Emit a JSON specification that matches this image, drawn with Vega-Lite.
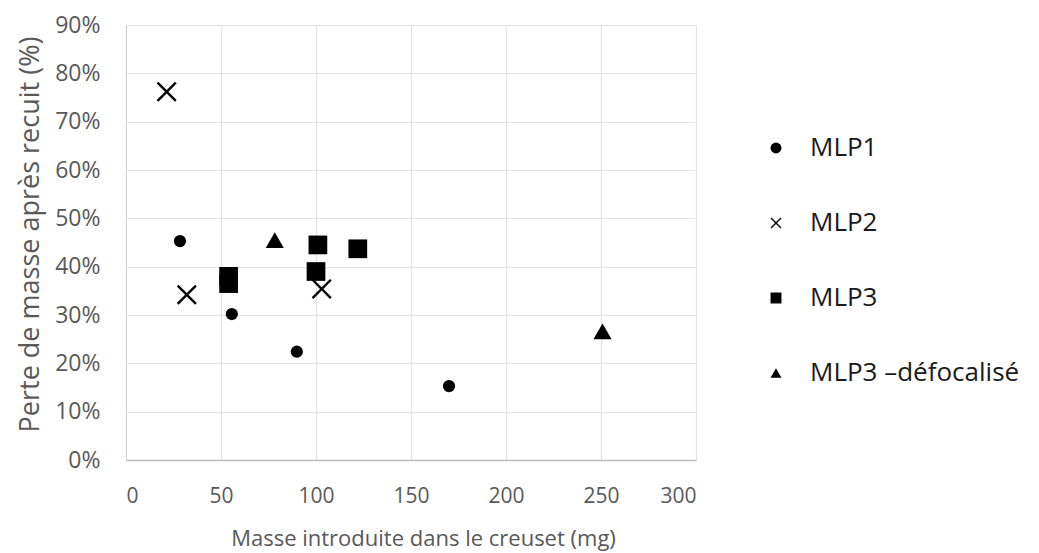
{
  "$schema": "https://vega.github.io/schema/vega-lite/v6.json",
  "width": 570,
  "height": 435,
  "autosize": {"type": "none"},
  "padding": {"left": 126, "top": 25, "right": 343, "bottom": 93},
  "background": "white",
  "config": {
    "font": "Open Sans",
    "view": {"stroke": null},
    "axis": {
      "labelFont": "Open Sans",
      "labelFontSize": 20,
      "labelColor": "#595959",
      "titleFont": "Open Sans",
      "titleFontSize": 22,
      "titleFontWeight": "normal",
      "titleColor": "#595959",
      "gridColor": "#e3e3e3",
      "gridWidth": 1.2,
      "ticks": false
    }
  },
  "data": {
    "values": [
      {"serie": "MLP1", "masse": 28.4, "perte": 0.453},
      {"serie": "MLP1", "masse": 55.7, "perte": 0.302},
      {"serie": "MLP1", "masse": 89.9, "perte": 0.224},
      {"serie": "MLP1", "masse": 170, "perte": 0.153},
      {"serie": "MLP2", "masse": 21.4, "perte": 0.762},
      {"serie": "MLP2", "masse": 32, "perte": 0.342},
      {"serie": "MLP2", "masse": 103, "perte": 0.354},
      {"serie": "MLP3", "masse": 54, "perte": 0.38},
      {"serie": "MLP3", "masse": 54, "perte": 0.365},
      {"serie": "MLP3", "masse": 101, "perte": 0.445},
      {"serie": "MLP3", "masse": 100, "perte": 0.39},
      {"serie": "MLP3", "masse": 122, "perte": 0.437},
      {"serie": "MLP3 –défocalisé", "masse": 78.3, "perte": 0.455},
      {"serie": "MLP3 –défocalisé", "masse": 250.8, "perte": 0.266}
    ]
  },
  "encoding": {
    "x": {
      "field": "masse",
      "type": "quantitative",
      "scale": {"domain": [0, 300], "nice": false},
      "axis": {
        "values": [0, 50, 100, 150, 200, 250, 300],
        "title": "Masse introduite dans le creuset (mg)",
        "domainColor": "#bfbfbf",
        "domainWidth": 1.5,
        "labelFontSize": 21,
        "labelPadding": 25,
        "titlePadding": 22,
        "titleX": 297
      }
    },
    "y": {
      "field": "perte",
      "type": "quantitative",
      "scale": {"domain": [0, 0.9], "nice": false},
      "axis": {
        "values": [0, 0.1, 0.2, 0.3, 0.4, 0.5, 0.6, 0.7, 0.8, 0.9],
        "format": ".0%",
        "title": "Perte de masse après recuit (%)",
        "domainColor": "#d0d0d0",
        "labelFontSize": 23,
        "labelPadding": 26,
        "titleFontSize": 27,
        "titlePadding": 10,
        "titleY": 209
      }
    },
    "shape": {
      "field": "serie",
      "type": "nominal",
      "scale": {
        "domain": ["MLP1", "MLP2", "MLP3", "MLP3 –défocalisé"],
        "range": ["circle", "M-0.83,-1L0,-0.17L0.83,-1L1,-0.83L0.17,0L1,0.83L0.83,1L0,0.17L-0.83,1L-1,0.83L-0.17,0L-1,-0.83Z", "square", "triangle-up"]
      },
      "legend": {
        "title": null,
        "orient": "none",
        "legendX": 637,
        "legendY": 110,
        "labelFont": "Open Sans",
        "labelFontSize": 26,
        "labelColor": "#1a1a1a",
        "labelOffset": 21,
        "labelLimit": 400,
        "rowPadding": 49,
        "symbolSize": 120,
        "symbolFillColor": "black",
        "symbolStrokeColor": "black",
        "symbolStrokeWidth": 0.5,
        "encode": {
          "symbols": {
            "update": {
              "fill": {"value": "black"},
              "fillOpacity": {"value": 1},
              "opacity": {"value": 1}
            }
          }
        }
      }
    }
  },
  "layer": [
    {
      "transform": [{"filter": "datum.serie === 'MLP1'"}],
      "mark": {"type": "point", "filled": true, "color": "black", "size": 150, "opacity": 1}
    },
    {
      "transform": [{"filter": "datum.serie === 'MLP2'"}],
      "mark": {"type": "point", "filled": true, "color": "black", "size": 400, "opacity": 1}
    },
    {
      "transform": [{"filter": "datum.serie === 'MLP3'"}],
      "mark": {"type": "point", "filled": true, "color": "black", "size": 350, "opacity": 1}
    },
    {
      "transform": [{"filter": "datum.serie === 'MLP3 –défocalisé'"}],
      "mark": {"type": "point", "filled": true, "color": "black", "size": 330, "opacity": 1}
    }
  ]
}
